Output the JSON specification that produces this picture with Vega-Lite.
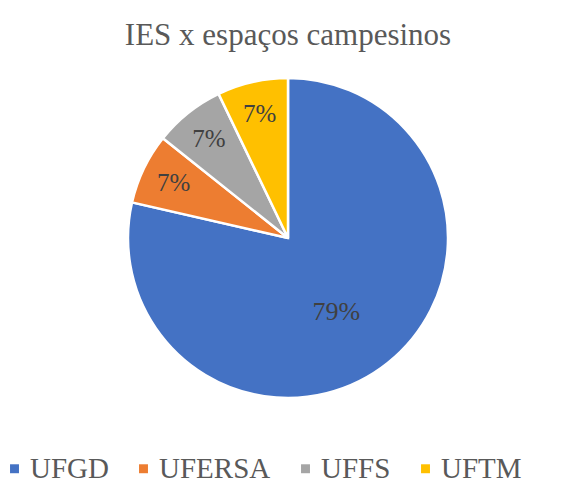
{
  "$schema": "https://vega.github.io/schema/vega-lite/v6.json",
  "autosize": {"type": "none"},
  "width": 576,
  "height": 356,
  "padding": {"top": 60, "left": 0, "right": 3, "bottom": 79},
  "background": "white",
  "title": {
    "text": "IES x espaços campesinos",
    "font": "Times New Roman, Liberation Serif, DejaVu Serif, serif",
    "fontSize": 31,
    "fontWeight": "normal",
    "color": "#595959",
    "offset": 8
  },
  "data": {
    "values": [
      {"ies": "UFGD", "count": 11, "label": "79%", "ord": 1},
      {"ies": "UFERSA", "count": 1, "label": "7%", "ord": 2},
      {"ies": "UFFS", "count": 1, "label": "7%", "ord": 3},
      {"ies": "UFTM", "count": 1, "label": "7%", "ord": 4}
    ]
  },
  "encoding": {
    "theta": {"field": "count", "type": "quantitative", "stack": true},
    "order": {"field": "ord", "type": "quantitative"}
  },
  "layer": [
    {
      "mark": {"type": "arc", "outerRadius": 160, "stroke": "white", "strokeWidth": 2.5},
      "encoding": {
        "color": {
          "field": "ies",
          "type": "nominal",
          "scale": {
            "domain": ["UFGD", "UFERSA", "UFFS", "UFTM"],
            "range": ["#4472C4", "#ED7D31", "#A5A5A5", "#FFC000"]
          },
          "legend": {
            "orient": "bottom",
            "direction": "horizontal",
            "title": null,
            "symbolType": "square",
            "symbolSize": 80,
            "symbolStrokeWidth": 0,
            "labelFont": "Times New Roman, Liberation Serif, DejaVu Serif, serif",
            "labelFontSize": 29,
            "labelColor": "#595959",
            "columnPadding": 20,
            "labelOffset": 1,
            "offset": 38
          }
        }
      }
    },
    {
      "mark": {"type": "text", "radius": 84, "dx": -4, "dy": 8, "font": "Times New Roman, Liberation Serif, DejaVu Serif, serif", "fontSize": 26, "color": "#404040"},
      "encoding": {
        "text": {"condition": {"test": "datum.ies === 'UFGD'", "field": "label"}, "value": ""}
      }
    },
    {
      "mark": {"type": "text", "radius": 127, "font": "Times New Roman, Liberation Serif, DejaVu Serif, serif", "fontSize": 25, "color": "#404040"},
      "encoding": {
        "text": {"condition": {"test": "datum.ies !== 'UFGD'", "field": "label"}, "value": ""}
      }
    }
  ],
  "config": {"view": {"stroke": null}}
}
